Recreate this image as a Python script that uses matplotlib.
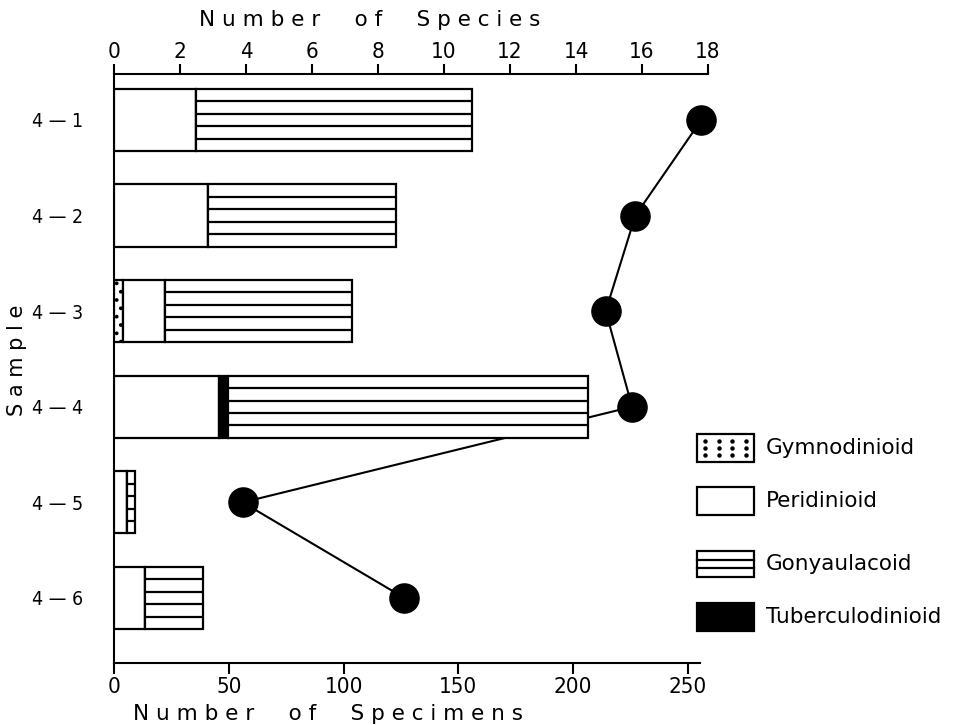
import matplotlib
matplotlib.use("Agg")
import matplotlib.pyplot as plt
from matplotlib.patches import Rectangle
import numpy as np

plt.rcParams['font.family'] = ['DejaVu Sans']
plt.rcParams['font.stretch'] = 'condensed'
plt.rcParams['hatch.linewidth'] = 1.5

# ---------------- data ----------------
samples = ["4 — 1", "4 — 2", "4 — 3", "4 — 4", "4 — 5", "4 — 6"]
gymnodinioid = [0, 0, 3.8, 0, 0, 0]
peridinioid = [35.6, 40.8, 18.4, 45.7, 5.5, 13.5]
tuberculodinioid = [0, 0, 0, 4.1, 0, 0]
gonyaulacoid = [120.4, 81.9, 81.6, 156.5, 3.6, 25.4]
species = [17.8, 15.8, 14.9, 15.7, 3.9, 8.8]

spec_ticks = [0, 50, 100, 150, 200, 250]
species_ticks = [0, 2, 4, 6, 8, 10, 12, 14, 16, 18]
legend_labels = ["Gymnodinioid", "Peridinioid", "Gonyaulacoid", "Tuberculodinioid"]

# ---------------- figure ----------------
W, H = 958, 725
fig = plt.figure(figsize=(W / 100, H / 100), dpi=100)
L, R, T, B = 114, 708, 74, 663
pos = [L / W, 1 - B / H, (R - L) / W, (B - T) / H]

ax = fig.add_axes(pos)          # species (top) axis, drawn first (below bars)
ax2 = ax.twiny()                # specimens (bottom) axis, bars drawn on top
ax2.patch.set_visible(False)

y = np.arange(len(samples))
ylim = (5.68, -0.48)
ax.set_ylim(*ylim)

# species line
ax.plot(species, y, color='black', lw=1.5, marker='o', markersize=21,
        markerfacecolor='black', markeredgecolor='black', zorder=1,
        clip_on=False)
ax.set_xlim(0, 18)
ax.xaxis.set_ticks_position('top')
ax.xaxis.set_label_position('top')
ax.set_xticks(species_ticks)
ax.set_xticklabels([str(t) for t in species_ticks], fontsize=16)
ax.tick_params(axis='x', direction='out', length=7, width=1.5, pad=2)
ax.tick_params(axis='y', length=0, pad=22, labelsize=14)
ax.set_yticks(y)
ax.set_yticklabels(samples)
for s in ['right', 'bottom']:
    ax.spines[s].set_visible(False)
ax.spines['top'].set_linewidth(1.5)
ax.spines['left'].set_linewidth(1.5)

# bars (bottom axis)
hbar = 0.65
xmax2 = (R - L) / 2.296
ax2.set_xlim(0, xmax2)
ax2.set_ylim(*ylim)
ax2.xaxis.set_ticks_position('bottom')
ax2.xaxis.set_label_position('bottom')
ax2.set_xticks(spec_ticks)
ax2.set_xticklabels([str(t) for t in spec_ticks], fontsize=16)
ax2.tick_params(axis='x', direction='out', length=8, width=1.5, pad=2)
for s in ['right', 'top', 'left']:
    ax2.spines[s].set_visible(False)
ax2.spines['bottom'].set_linewidth(1.5)
ax2.spines['bottom'].set_bounds(0, (700 - L) / 2.296)

g = np.array(gymnodinioid)
p = np.array(peridinioid)
t = np.array(tuberculodinioid)
go = np.array(gonyaulacoid)

kw = dict(height=hbar, edgecolor='black', linewidth=1.6, zorder=3)
ax2.barh(y, g, left=0, color='white', hatch='..', **kw)
ax2.barh(y, p, left=g, color='white', **kw)
ax2.barh(y, t, left=g + p, color='black', **kw)
left_go = g + p + t
ax2.barh(y, go, left=left_go, color='white', **kw)
# horizontal stripes inside gonyaulacoid segments
for yi, l0, w in zip(y, left_go, go):
    if w > 0:
        for f in (0.2, 0.4, 0.6, 0.8):
            yy = yi - hbar / 2 + f * hbar
            ax2.hlines(yy, l0, l0 + w, color='black', lw=1.6, zorder=4)

# axis titles
fig.text(370 / W, 1 - 20 / H, "N u m b e r     o f     S p e c i e s",
         ha='center', va='center', fontsize=15.5, stretch='normal')
fig.text(328 / W, 1 - 714 / H, "N u m b e r     o f     S p e c i m e n s",
         ha='center', va='center', fontsize=15.5, stretch='normal')
fig.text(17 / W, 1 - 360 / H, "S a m p l e", rotation=90,
         ha='center', va='center', fontsize=15, stretch='normal')

# legend (manual)
lax = fig.add_axes([0, 0, 1, 1])
lax.set_xlim(0, W)
lax.set_ylim(H, 0)
lax.axis('off')
bx0, bx1 = 697, 754
boxes = [(434, 462), (487, 515), (551, 577), (603, 631)]
for i, ((y0, y1), lab) in enumerate(zip(boxes, legend_labels)):
    fc = 'black' if i == 3 else 'white'
    lax.add_patch(Rectangle((bx0, y0), bx1 - bx0, y1 - y0, facecolor=fc,
                            edgecolor='black', lw=1.6))
    if i == 0:
        for cx in np.linspace(bx0 + 8, bx1 - 8, 4):
            for cy in np.linspace(y0 + 7, y1 - 7, 3):
                lax.plot(cx, cy, marker='o', ms=2.2, color='black')
    if i == 2:
        for f in (1 / 3, 2 / 3):
            yy = y0 + f * (y1 - y0)
            lax.plot([bx0, bx1], [yy, yy], color='black', lw=1.6)
    lax.text(766, (y0 + y1) / 2, lab, ha='left', va='center', fontsize=15.5,
             stretch='normal')

fig.savefig("out.png", dpi=100)
